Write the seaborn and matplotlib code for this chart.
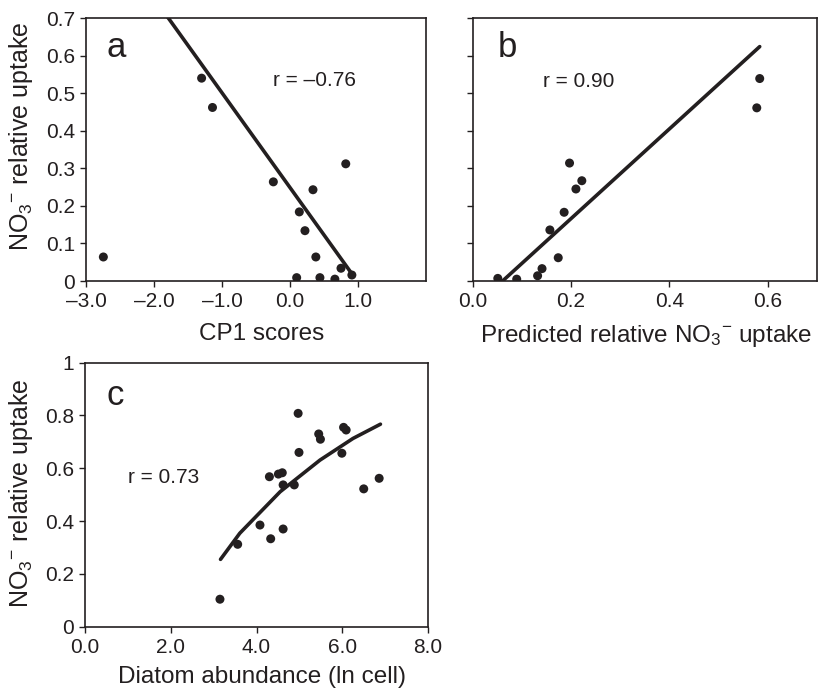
import matplotlib
matplotlib.use("Agg")
import matplotlib.pyplot as plt
import seaborn as sns
import pandas as pd

# ---- data ----
a_x = [-2.745, -1.30, -1.14, -0.245, 0.338, 0.82, 0.137, 0.22, 0.38, 0.098, 0.44, 0.66, 0.75, 0.91]
a_y = [0.064, 0.540, 0.462, 0.264, 0.243, 0.312, 0.184, 0.134, 0.064, 0.009, 0.009, 0.005, 0.034, 0.016]
a_fit_x = [-1.90, 0.907]
a_fit_y = [0.728, 0.020]

b_x = [0.051, 0.0895, 0.132, 0.141, 0.174, 0.157, 0.186, 0.197, 0.210, 0.222, 0.578, 0.584]
b_y = [0.007, 0.005, 0.014, 0.033, 0.062, 0.136, 0.183, 0.314, 0.245, 0.267, 0.461, 0.539]
b_fit_x = [0.059, 0.584]
b_fit_y = [-0.002, 0.624]

c_x = [3.147, 3.56, 4.08, 4.33, 4.62, 4.30, 4.51, 4.60, 4.62, 4.88, 4.99, 4.97, 5.45, 5.49, 5.99, 6.03, 6.09, 6.50, 6.86]
c_y = [0.104, 0.312, 0.385, 0.333, 0.370, 0.568, 0.578, 0.583, 0.537, 0.537, 0.660, 0.808, 0.730, 0.710, 0.657, 0.755, 0.745, 0.522, 0.562]
c_fit_x = [3.16, 3.61, 4.55, 5.48, 6.25, 6.89]
c_fit_y = [0.255, 0.354, 0.511, 0.631, 0.713, 0.767]

a_xticks = [-3.0, -2.0, -1.0, 0.0, 1.0]
a_xticklabels = ["\u20133.0", "\u20132.0", "\u20131.0", "0.0", "1.0"]
a_yticks = [0, 0.1, 0.2, 0.3, 0.4, 0.5, 0.6, 0.7]
a_yticklabels = ["0", "0.1", "0.2", "0.3", "0.4", "0.5", "0.6", "0.7"]
b_xticks = [0.0, 0.2, 0.4, 0.6]
b_xticklabels = ["0.0", "0.2", "0.4", "0.6"]
c_xticks = [0.0, 2.0, 4.0, 6.0, 8.0]
c_xticklabels = ["0.0", "2.0", "4.0", "6.0", "8.0"]
c_yticks = [0, 0.2, 0.4, 0.6, 0.8, 1.0]
c_yticklabels = ["0", "0.2", "0.4", "0.6", "0.8", "1"]

ylab = "NO$_3$$^{-}$ relative uptake"
xlab_b = "Predicted relative NO$_3$$^{-}$ uptake"

# ---- style ----
sns.set_theme(style="white")
INK = "#231f20"
plt.rcParams["font.family"] = ["Liberation Sans", "DejaVu Sans"]
plt.rcParams["mathtext.fontset"] = "custom"
plt.rcParams["mathtext.rm"] = "Liberation Sans"
plt.rcParams["mathtext.it"] = "Liberation Sans:italic"
plt.rcParams["mathtext.bf"] = "Liberation Sans:bold"

TICK_FS = 15
LAB_FS = 17.5
YLAB_FS = 18
R_FS = 15
P_FS = 25

fig = plt.figure(figsize=(8.2, 6.92), dpi=100)
ax_a = fig.add_axes([0.1049, 0.5939, 0.4146, 0.3800])
ax_b = fig.add_axes([0.5765, 0.5939, 0.4195, 0.3800])
ax_c = fig.add_axes([0.1037, 0.0944, 0.4183, 0.3815])

def style(ax):
    for s in ax.spines.values():
        s.set_visible(True)
        s.set_color(INK)
        s.set_linewidth(1.2)
    ax.tick_params(direction="out", length=4, width=1.0, colors=INK,
                   labelsize=TICK_FS, bottom=True, left=True, top=False, right=False, pad=4)

def draw(ax, x, y, fx, fy):
    sns.scatterplot(x=x, y=y, ax=ax, color=INK, s=42, edgecolor="none", zorder=3)
    sns.lineplot(x=fx, y=fy, ax=ax, color=INK, linewidth=2.6, sort=False,
                 estimator=None, zorder=2)

# panel a
draw(ax_a, a_x, a_y, a_fit_x, a_fit_y)
ax_a.set_xlim(-3.0, 2.0)
ax_a.set_ylim(0, 0.7)
ax_a.set_xticks(a_xticks, a_xticklabels)
ax_a.set_yticks(a_yticks, a_yticklabels)
ax_a.set_xlabel("CP1 scores", fontsize=LAB_FS, color=INK)
ax_a.set_ylabel(ylab, fontsize=YLAB_FS, color=INK)
ax_a.yaxis.set_label_coords(-0.15, 0.551)
ax_a.xaxis.set_label_coords(0.517, -0.160)
ax_a.text(0.061, 0.853, "a", transform=ax_a.transAxes, fontsize=P_FS, color=INK, va="baseline")
ax_a.text(0.551, 0.741, "r = \u20130.76", transform=ax_a.transAxes, fontsize=R_FS, color=INK, va="baseline")
style(ax_a)

# panel b
draw(ax_b, b_x, b_y, b_fit_x, b_fit_y)
ax_b.set_xlim(0, 0.7)
ax_b.set_ylim(0, 0.7)
ax_b.set_xticks(b_xticks, b_xticklabels)
ax_b.set_yticks(a_yticks)
ax_b.set_yticklabels([])
ax_b.set_xlabel(xlab_b, fontsize=LAB_FS, color=INK)
ax_b.xaxis.set_label_coords(0.504, -0.160)
ax_b.set_ylabel("")
ax_b.text(0.074, 0.853, "b", transform=ax_b.transAxes, fontsize=P_FS, color=INK, va="baseline")
ax_b.text(0.205, 0.739, "r = 0.90", transform=ax_b.transAxes, fontsize=R_FS, color=INK, va="baseline")
style(ax_b)

# panel c
draw(ax_c, c_x, c_y, c_fit_x, c_fit_y)
ax_c.set_xlim(0, 8.0)
ax_c.set_ylim(0, 1.0)
ax_c.set_xticks(c_xticks, c_xticklabels)
ax_c.set_yticks(c_yticks, c_yticklabels)
ax_c.set_xlabel("Diatom abundance (ln cell)", fontsize=LAB_FS, color=INK)
ax_c.set_ylabel(ylab, fontsize=YLAB_FS, color=INK)
ax_c.yaxis.set_label_coords(-0.146, 0.506)
ax_c.xaxis.set_label_coords(0.516, -0.148)
ax_c.text(0.063, 0.840, "c", transform=ax_c.transAxes, fontsize=P_FS, color=INK, va="baseline")
ax_c.text(0.126, 0.543, "r = 0.73", transform=ax_c.transAxes, fontsize=R_FS, color=INK, va="baseline")
style(ax_c)

fig.savefig("out.png", dpi=100)
